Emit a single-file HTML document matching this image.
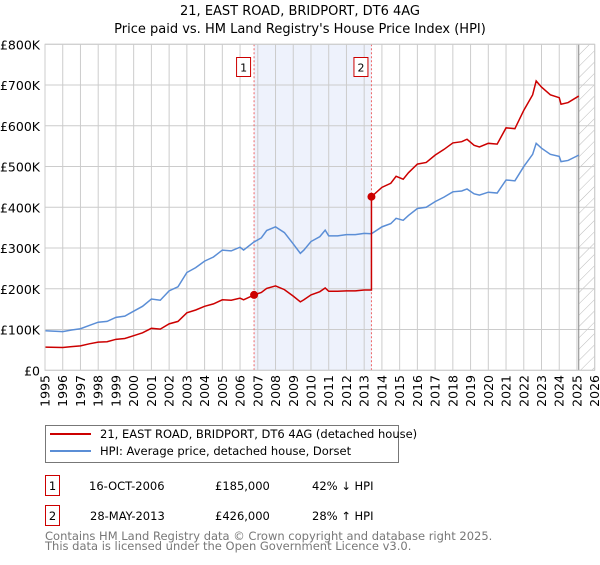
<!DOCTYPE html>
<html><head><meta charset="utf-8"><style>
body{margin:0;background:#fff;font-family:"Liberation Sans","DejaVu Sans",sans-serif;}
svg text{font-family:"DejaVu Sans","Liberation Sans",sans-serif;}
</style></head><body>
<svg width="600" height="560" xmlns="http://www.w3.org/2000/svg" id="chart">
<defs><pattern id="hatch" width="8" height="8" patternUnits="userSpaceOnUse" patternTransform="rotate(45)"><line x1="0" y1="0" x2="0" y2="8" stroke="#bbb" stroke-width="1"/></pattern></defs>
<text x="300" y="15" text-anchor="middle" font-size="13">21, EAST ROAD, BRIDPORT, DT6 4AG</text>
<text x="300" y="33" text-anchor="middle" font-size="13">Price paid vs. HM Land Registry's House Price Index (HPI)</text>
<g id="plot"></g>
<g>
<rect x="45.5" y="425.5" width="353" height="37" fill="#fff" stroke="#777"/>
<line x1="50" y1="434" x2="91" y2="434" stroke="#cc0000" stroke-width="2"/>
<text x="100" y="438" font-size="11.5">21, EAST ROAD, BRIDPORT, DT6 4AG (detached house)</text>
<line x1="50" y1="451" x2="91" y2="451" stroke="#5b8ed6" stroke-width="2"/>
<text x="100" y="455" font-size="11.5">HPI: Average price, detached house, Dorset</text>
</g>
<g font-size="11.5">
<rect x="45.5" y="475.5" width="14" height="20" fill="#fff" stroke="#cc0000"/><text x="52.5" y="490" text-anchor="middle">1</text>
<text x="89" y="490">16-OCT-2006</text><text x="215" y="490">£185,000</text><text x="312" y="490">42% ↓ HPI</text>
<rect x="45.5" y="505.5" width="14" height="20" fill="#fff" stroke="#cc0000"/><text x="52.5" y="520" text-anchor="middle">2</text>
<text x="90" y="520">28-MAY-2013</text><text x="215" y="520">£426,000</text><text x="312" y="520">28% ↑ HPI</text>
</g>
<text x="45" y="540" font-size="11.5" fill="#777">Contains HM Land Registry data © Crown copyright and database right 2025.</text>
<text x="45" y="550" font-size="11.5" fill="#777">This data is licensed under the Open Government Licence v3.0.</text>
</svg>
<script>
const hpiDates=[1995.0,1996.0,1996.5,1997.0,1997.5,1998.0,1998.5,1999.0,1999.5,2000.0,2000.5,2001.0,2001.5,2002.0,2002.5,2003.0,2003.5,2004.0,2004.5,2005.0,2005.5,2006.0,2006.2,2006.79,2007.2,2007.5,2008.0,2008.5,2009.0,2009.4,2009.6,2010.0,2010.5,2010.8,2011.0,2011.5,2012.0,2012.5,2013.0,2013.41,2014.0,2014.5,2014.8,2015.2,2015.5,2016.0,2016.5,2017.0,2017.5,2018.0,2018.5,2018.8,2019.2,2019.5,2020.0,2020.5,2021.0,2021.5,2022.0,2022.5,2022.7,2023.0,2023.5,2024.0,2024.1,2024.5,2025.1];
const hpiValues=[97,95,99,102,110,118,120,130,133,145,157,175,172,195,205,240,252,268,278,295,293,302,295,315,325,343,352,338,310,287,295,316,328,344,330,330,333,333,336,335,352,360,373,368,380,397,400,414,425,438,440,445,433,430,437,435,467,465,500,530,557,545,530,525,512,515,528];
const priceDates=[1995.0,1996.0,1996.5,1997.0,1997.5,1998.0,1998.5,1999.0,1999.5,2000.0,2000.5,2001.0,2001.5,2002.0,2002.5,2003.0,2003.5,2004.0,2004.5,2005.0,2005.5,2006.0,2006.2,2006.79,2007.2,2007.5,2008.0,2008.5,2009.0,2009.4,2009.6,2010.0,2010.5,2010.8,2011.0,2011.5,2012.0,2012.5,2013.0,2013.41,2013.41,2014.0,2014.5,2014.8,2015.2,2015.5,2016.0,2016.5,2017.0,2017.5,2018.0,2018.5,2018.8,2019.2,2019.5,2020.0,2020.5,2021.0,2021.5,2022.0,2022.5,2022.7,2023.0,2023.5,2024.0,2024.1,2024.5,2025.1];
const priceValues=[57,56,58,60,65,69,70,76,78,85,92,103,101,114,120,141,148,157,163,173,172,177,173,185,191,201,207,198,182,168,173,185,193,202,194,194,195,195,197,197,426,449,459,476,469,485,506,510,528,542,558,561,567,552,548,557,555,595,593,638,676,710,695,676,669,653,657,673];
const saleDates=[2006.79,2013.41];
const saleValues=[185,426];
const saleLabels=["1","2"];
const yTicks=[0,100,200,300,400,500,600,700,800];
const yTickLabels=["£0","£100K","£200K","£300K","£400K","£500K","£600K","£700K","£800K"];
const xTicks=[1995,1996,1997,1998,1999,2000,2001,2002,2003,2004,2005,2006,2007,2008,2009,2010,2011,2012,2013,2014,2015,2016,2017,2018,2019,2020,2021,2022,2023,2024,2025,2026];
const dataEnd=2025.1;

const X0=45,X1=594.7,Y0=370.3,Y1=44.3;
const xs=d=>X0+(d-1995)/(2026-1995)*(X1-X0);
const ys=v=>Y0-v/800*(Y0-Y1);
const NS="http://www.w3.org/2000/svg";
const g=document.getElementById('plot');
function mk(tag,attrs,parent){const e=document.createElementNS(NS,tag);for(const k in attrs)e.setAttribute(k,attrs[k]);(parent||g).appendChild(e);return e;}

const shade=mk('rect',{x:xs(saleDates[0]),y:Y1,width:xs(saleDates[1])-xs(saleDates[0]),height:Y0-Y1,fill:'#eef2fc'});


const hatch=mk('rect',{x:xs(dataEnd),y:Y1,width:X1-xs(dataEnd),height:Y0-Y1,fill:'url(#hatch)'});



yTicks.forEach((t,i)=>{
 const l=mk('line',{x1:X0,x2:X1,y1:ys(t),y2:ys(t),stroke:'#cccccc'});
 
 
 const tx=mk('text',{x:40,y:ys(t)+5,'text-anchor':'end','font-size':'12.5'});
 tx.textContent=yTickLabels[i];
 
 
});
xTicks.forEach(t=>{
 const l=mk('line',{x1:xs(t),x2:xs(t),y1:Y1,y2:Y0,stroke:'#cccccc'});
 
 
 const tx=mk('text',{x:0,y:0,'text-anchor':'end','font-size':'12.5',transform:`translate(${xs(t)+4.5},375) rotate(-90)`});
 tx.textContent=String(t);
 
 
});
const endLine=mk('line',{x1:xs(dataEnd),x2:xs(dataEnd),y1:Y1,y2:Y0,stroke:'#888'});



saleDates.forEach((d,i)=>{
 const l=mk('line',{x1:xs(d),x2:xs(d),y1:Y1,y2:Y0,stroke:'#ee6666','stroke-dasharray':'2,2'});
 
 
});

const hp=mk('polyline',{points:hpiDates.map((d,i)=>xs(d)+','+ys(hpiValues[i])).join(' '),fill:'none',stroke:'#5b8ed6','stroke-width':1.5});


const pp=mk('polyline',{points:priceDates.map((d,i)=>xs(d)+','+ys(priceValues[i])).join(' '),fill:'none',stroke:'#cc0000','stroke-width':1.5});



saleDates.forEach((d,i)=>{
 const c=mk('circle',{cx:xs(d),cy:ys(saleValues[i]),r:4,fill:'#cc0000'});
 
 
 const b=mk('rect',{x:xs(d)-17.5,y:57.5,width:14,height:19,fill:'#fff',stroke:'#cc0000'});
 
 
 const t=mk('text',{x:xs(d)-10.5,y:71.5,'text-anchor':'middle','font-size':'11'});
 t.textContent=saleLabels[i];
 
 
});
const border=mk('rect',{x:X0,y:Y1,width:X1-X0,height:Y0-Y1,fill:'none',stroke:'#cccccc'});


</script>
</body></html>
